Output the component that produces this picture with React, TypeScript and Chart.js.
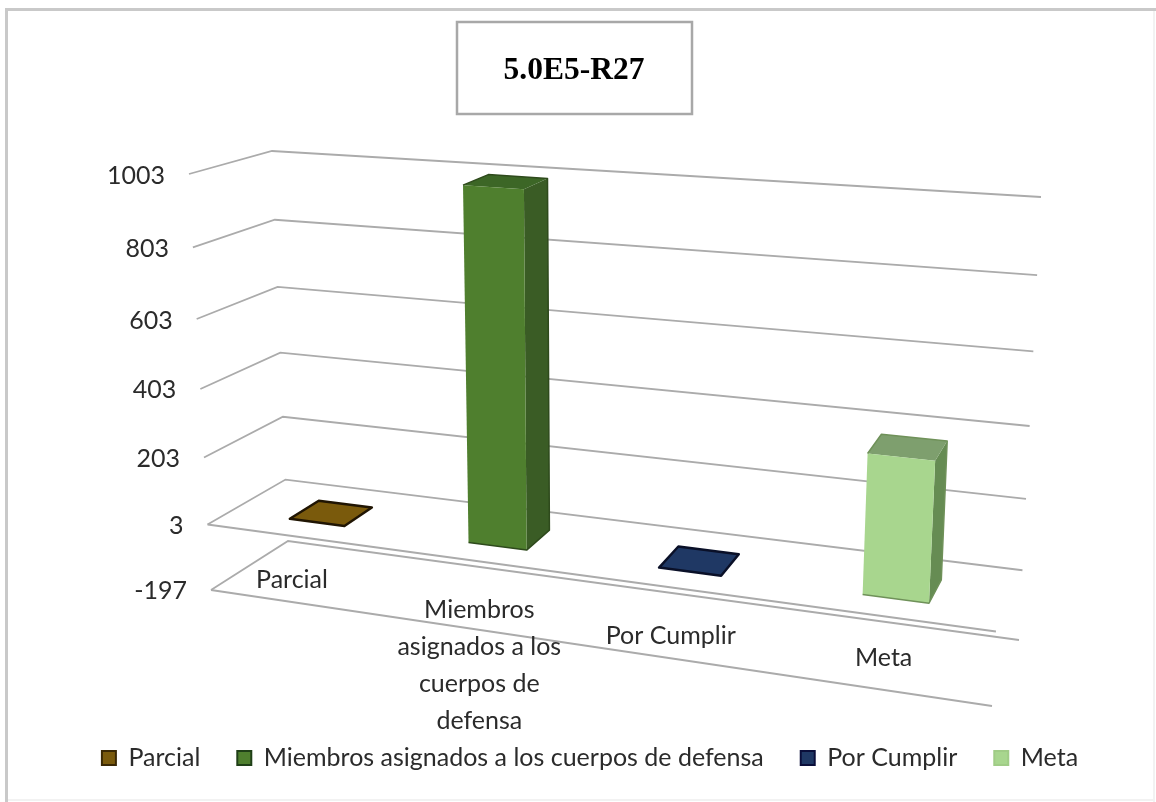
import React, { useEffect, useRef } from "react";
import { Chart, registerables, LinearScale } from "chart.js";

const titleText = "5.0E5-R27";
const categories: (string | string[])[] = [
  "Parcial",
  ["Miembros", "asignados a los", "cuerpos de", "defensa"],
  "Por Cumplir",
  "Meta",
];
const legendLabels = ["Parcial", "Miembros asignados a los cuerpos de defensa", "Por Cumplir", "Meta"];
const values = [3, 1000, 3, 385];
const axisMin = -197;
const axisMax = 1003;
const axisStep = 200;
const baseValue = 3;

const frontColors = ["#7A5A0C", "#4F7F2E", "#1F3864", "#A8D68E"];
const sideColors = ["#3E2E06", "#3A5C25", "#101C36", "#668C53"];
const topColors = ["#7A5A0C", "#3C6626", "#1F3864", "#7E9F6E"];
const edgeColors = ["#201503", "#2E4A1C", "#0A1028", "#6F9159"];
const legendEdges = ["#3A2804", "#1F3F17", "#0A0E3A", "#A0CC86"];

const labelNudgeX = [-6, -1, -4, 1];
const labelNudgeY = [-23, -20, -23, -32];

const textFont = "Lato";
const textSize = 25;
const textColor = "#2b2b2b";

// Perspective box of the 3D chart: front/back, left/right, bottom/top corners.
const corners = {
  flb: [211, 590], flt: [189, 174], frb: [992, 706], frt: [1017, 233],
  blb: [288, 541], blt: [272, 151], brb: [1019, 640], brt: [1041, 197],
};
const depthFront = 0.3;
const depthBack = 0.69;

const warp = (t: number, c: number) => t / (c + (1 - c) * t);
const lerp = (a: number, b: number, f: number) => a + (b - a) * f;

function project(u: number, t: number, w: number): [number, number] {
  const c = corners;
  const at = (i: number) => {
    const fb = lerp(c.flb[i], c.frb[i], u);
    const ft = lerp(c.flt[i], c.frt[i], u);
    const bb = lerp(c.blb[i], c.brb[i], u);
    const bt = lerp(c.blt[i], c.brt[i], u);
    return lerp(lerp(fb, ft, t), lerp(bb, bt, t), w);
  };
  return [at(0), at(1)];
}

class PerspectiveScale extends LinearScale {
  static id = "perspectiveLinear";
  static defaults = LinearScale.defaults;
  getPixelForValue(v: number) {
    const t = (v - this.min) / (this.max - this.min);
    return this.bottom - warp(t, 1.07) * (this.bottom - this.top);
  }
  _computeLabelItems(area: any) {
    const items = super._computeLabelItems(area);
    for (const it of items) {
      const y = it.options.translation[1];
      const t = (this.bottom - y) / (this.bottom - this.top);
      it.options.translation[0] = 187 - 22 * t;
      it.options.translation[1] = y + 2 * t;
    }
    return items;
  }
}

Chart.register(...registerables, PerspectiveScale);

const poly = (ctx: CanvasRenderingContext2D, pts: [number, number][], fill: string, stroke?: string, lw = 1) => {
  ctx.beginPath();
  pts.forEach((p, i) => (i ? ctx.lineTo(p[0], p[1]) : ctx.moveTo(p[0], p[1])));
  ctx.closePath();
  ctx.fillStyle = fill;
  ctx.fill();
  if (stroke) {
    ctx.strokeStyle = stroke;
    ctx.lineWidth = lw;
    ctx.lineJoin = "round";
    ctx.stroke();
  }
};

const threeD = {
  id: "threeD",
  afterLayout(chart: any) {
    chart.legend.left += 16;
    chart.legend.right += 16;
  },
  beforeDraw(chart: any) {
    const ctx = chart.ctx as CanvasRenderingContext2D;
    ctx.save();
    ctx.fillStyle = "#ffffff";
    ctx.fillRect(0, 0, chart.width, chart.height);
    ctx.fillStyle = "#c9c9c9";
    ctx.fillRect(5, 8, 1151, 3);
    ctx.fillRect(5, 8, 3, 794);
    ctx.fillStyle = "#f2f2f2";
    ctx.fillRect(1153, 11, 2, 791);
    ctx.fillRect(8, 799, 1147, 2);
    ctx.fillStyle = "#ffffff";
    ctx.strokeStyle = "#a8a8a8";
    ctx.lineWidth = 2.5;
    ctx.fillRect(457, 22, 235, 92);
    ctx.strokeRect(457, 22, 235, 92);
    ctx.restore();
  },
  beforeDatasetsDraw(chart: any) {
    const ctx = chart.ctx as CanvasRenderingContext2D;
    const y = chart.scales.y;
    ctx.save();
    ctx.strokeStyle = "#ababab";
    ctx.lineWidth = 1.8;
    y.ticks.forEach((tick: any, i: number) => {
      const t = (y.bottom - y.getPixelForValue(tick.value)) / (y.bottom - y.top);
      const a = project(0, t, 0);
      const b = project(0, t, 1);
      const c = project(1, t, 1);
      ctx.beginPath();
      ctx.moveTo(a[0], a[1]);
      ctx.lineTo(b[0], b[1]);
      ctx.lineTo(c[0], c[1]);
      ctx.stroke();
      if (i < 2) {
        const d = project(1, t, 0);
        ctx.beginPath();
        ctx.moveTo(a[0], a[1]);
        ctx.lineTo(d[0], d[1]);
        ctx.stroke();
      }
    });
    ctx.restore();
  },
  beforeDatasetDraw(chart: any, args: any) {
    const ctx = chart.ctx as CanvasRenderingContext2D;
    const area = chart.chartArea;
    const y = chart.scales.y;
    const tOf = (px: number) => (y.bottom - px) / (y.bottom - y.top);
    ctx.save();
    args.meta.data.forEach((el: any, i: number) => {
      const { x, y: head, base, width } = el.getProps(["x", "y", "base", "width"], true);
      const u0 = warp((x - width / 2 - area.left) / area.width, 1.14);
      const u1 = warp((x + width / 2 - area.left) / area.width, 1.14);
      const t0 = tOf(base);
      const t1 = tOf(head);
      const flat = Math.abs(t1 - t0) < 0.001;
      const fbl = project(u0, t0, depthFront);
      const fbr = project(u1, t0, depthFront);
      const ftl = project(u0, t1, depthFront);
      const ftr = project(u1, t1, depthFront);
      const bbr = project(u1, t0, depthBack);
      const btr = project(u1, t1, depthBack);
      const btl = project(u0, t1, depthBack);
      if (flat) {
        poly(ctx, [ftl, ftr, btr, btl], topColors[i], edgeColors[i], 2.5);
      } else {
        poly(ctx, [fbr, bbr, btr, ftr], sideColors[i]);
        poly(ctx, [ftl, ftr, btr, btl], topColors[i]);
        poly(ctx, [fbl, fbr, ftr, ftl], frontColors[i]);
        ctx.strokeStyle = edgeColors[i];
        ctx.lineWidth = 1.5;
        ctx.beginPath();
        ctx.moveTo(ftl[0], ftl[1]);
        ctx.lineTo(btl[0], btl[1]);
        ctx.lineTo(btr[0], btr[1]);
        ctx.lineTo(bbr[0], bbr[1]);
        ctx.lineTo(fbr[0], fbr[1]);
        ctx.lineTo(fbl[0], fbl[1]);
        ctx.stroke();
      }
    });
    ctx.restore();
    return false;
  },
  afterDraw(chart: any) {
    const ctx = chart.ctx as CanvasRenderingContext2D;
    const xs = chart.scales.x;
    const area = chart.chartArea;
    ctx.save();
    ctx.font = `${textSize}px ${textFont}`;
    ctx.fillStyle = textColor;
    ctx.textAlign = "center";
    ctx.textBaseline = "middle";
    categories.forEach((label, i) => {
      const u = warp((xs.getPixelForValue(i) - area.left) / area.width, 1.14);
      const p = project(u, 0, 0);
      const lines = Array.isArray(label) ? label : [label];
      lines.forEach((line, k) => {
        ctx.fillText(line, p[0] + labelNudgeX[i], p[1] + labelNudgeY[i] + k * 37);
      });
    });
    ctx.restore();
  },
};

export default function App() {
  const ref = useRef<HTMLCanvasElement>(null);
  useEffect(() => {
    const chart = new Chart(ref.current!, {
      type: "bar",
      data: {
        labels: categories as any,
        datasets: [
          {
            data: values,
            base: baseValue,
            backgroundColor: frontColors,
            barPercentage: 0.312,
            categoryPercentage: 1,
          } as any,
        ],
      },
      plugins: [threeD],
      options: {
        animation: false,
        responsive: false,
        layout: { padding: { left: 0, right: 8, top: 0, bottom: 21.5 } },
        plugins: {
          tooltip: { enabled: false },
          title: {
            display: true,
            text: titleText,
            color: "#000000",
            font: { family: "'Liberation Serif'", size: 31.5, weight: "bold" },
            padding: { top: 52, bottom: 84 },
          },
          legend: {
            display: true,
            position: "bottom",
            onClick: () => {},
            labels: {
              boxWidth: 14,
              boxHeight: 14,
              padding: 37,
              color: textColor,
              font: { family: textFont, size: textSize },
              generateLabels: () =>
                legendLabels.map((text, i) => ({
                  text,
                  fillStyle: frontColors[i],
                  strokeStyle: legendEdges[i],
                  lineWidth: 2,
                  hidden: false,
                  index: i,
                  datasetIndex: 0,
                  fontColor: textColor,
                })),
            },
          },
        },
        scales: {
          x: {
            type: "category",
            ticks: { display: false },
            grid: { display: false },
            border: { display: false },
            afterFit: (s: any) => {
              s.height = 117.5;
            },
          },
          y: {
            type: "perspectiveLinear" as any,
            min: axisMin,
            max: axisMax,
            ticks: {
              stepSize: axisStep,
              color: textColor,
              font: { family: textFont, size: textSize },
              callback: (v: any) => String(v),
            },
            grid: { display: false },
            border: { display: false },
            afterFit: (s: any) => {
              s.width = 190;
            },
          },
        } as any,
      },
    });
    return () => chart.destroy();
  }, []);
  return (
    <canvas
      ref={ref}
      width={1156}
      height={802}
      style={{ position: "fixed", left: 0, top: 0, width: 1156, height: 802, display: "block" }}
    />
  );
}
